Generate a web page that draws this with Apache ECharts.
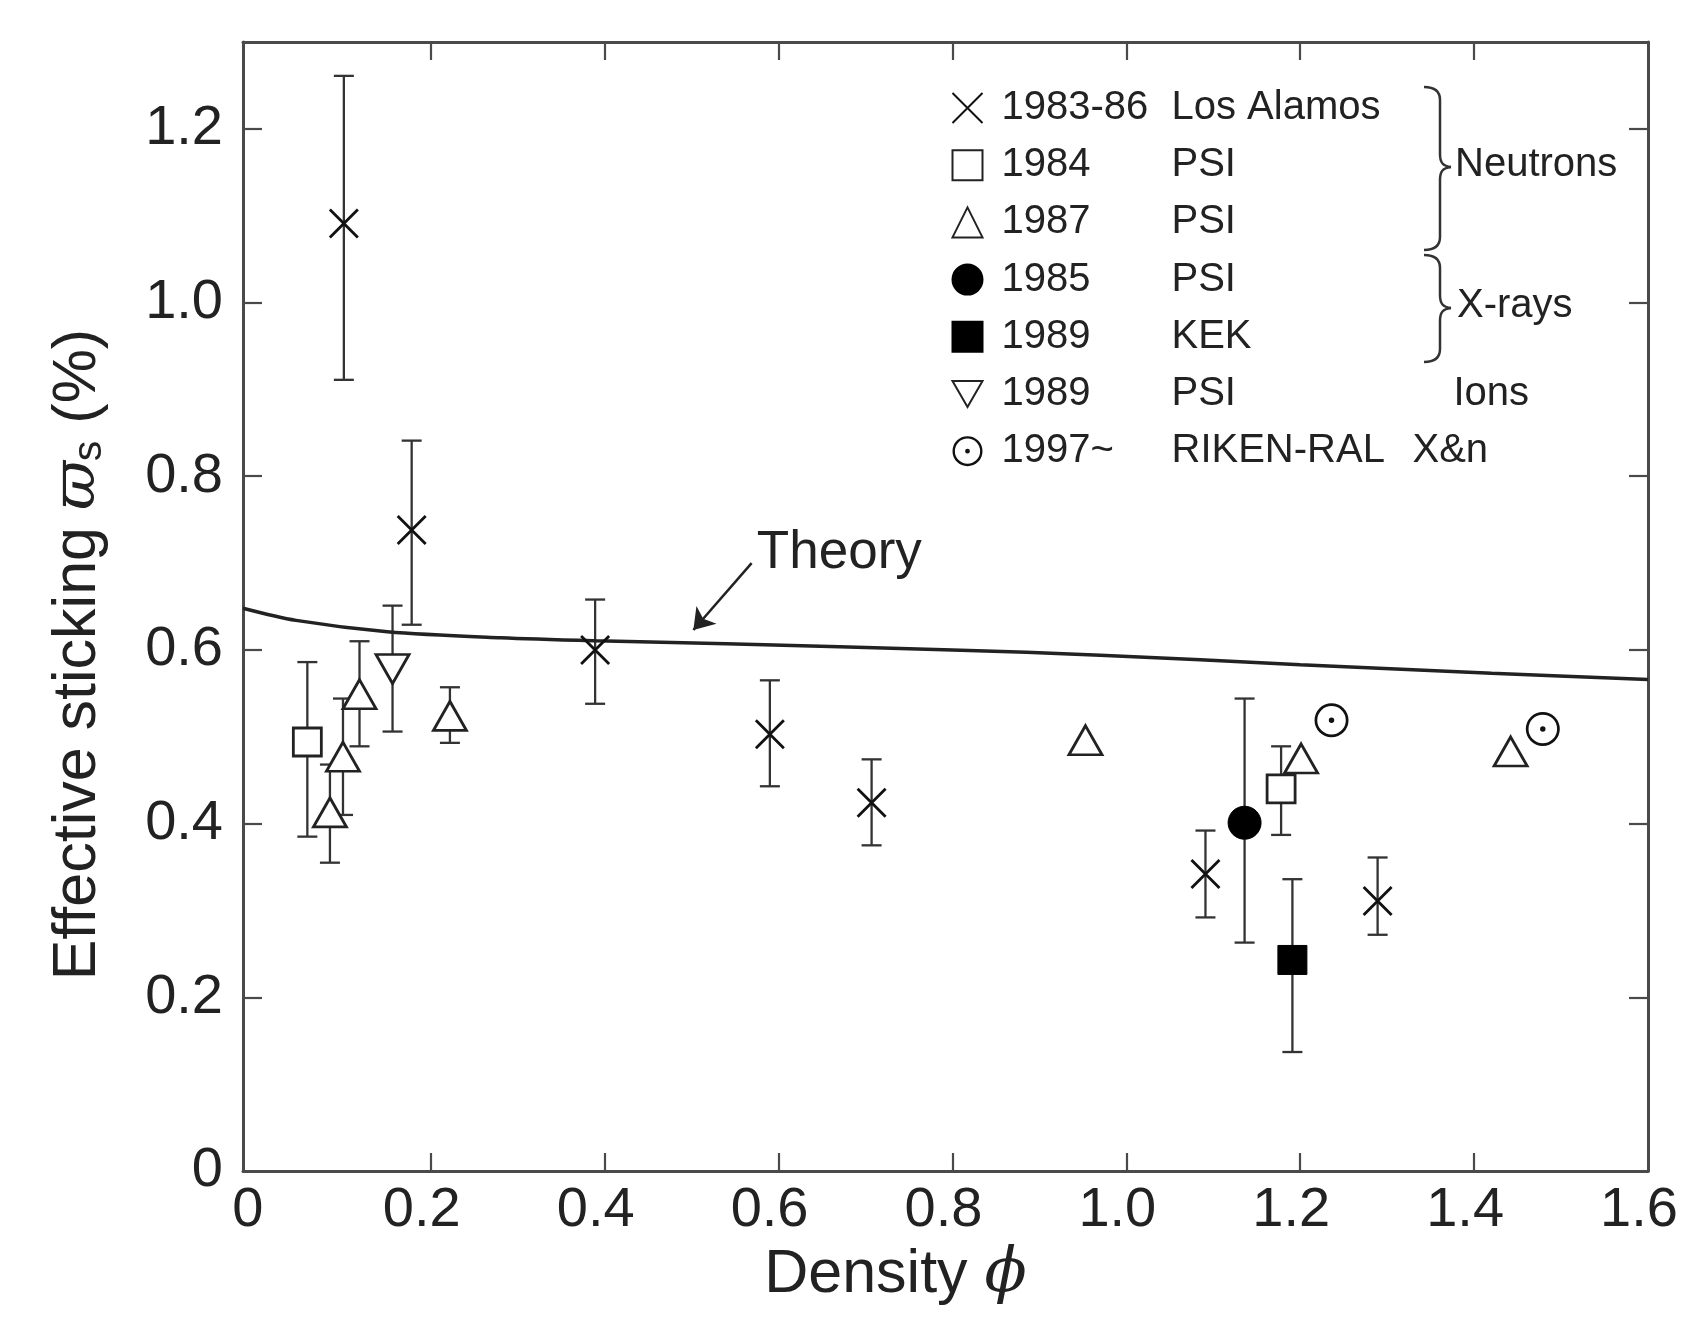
<!DOCTYPE html>
<html style="height: 100%;">
<head>
    <meta charset="UTF-8">
    <title>Effective sticking vs density</title>
    <script src="https://cdn.jsdelivr.net/npm/echarts@6.0.0/dist/echarts.min.js"></script>
    <style>
        body { margin: 0; background: #fff; }
        #container { width: 1681px; height: 1328px; }
    </style>
</head>
<body>
<div id="container"></div>
<script type="text/javascript">
    // --- data ---
    // 1983-86 Los Alamos (crosses)
    var laPhi = [0.100, 0.178, 0.389, 0.590, 0.707, 1.091, 1.289];
    var laVal = [1.091, 0.738, 0.600, 0.503, 0.424, 0.342, 0.311];
    var laLo  = [0.911, 0.629, 0.538, 0.443, 0.375, 0.292, 0.272];
    var laHi  = [1.261, 0.841, 0.658, 0.565, 0.474, 0.392, 0.361];
    // 1984 PSI (open squares)
    var psi84Phi = [0.058, 1.178];
    var psi84Val = [0.494, 0.440];
    var psi84Lo  = [0.385, 0.387];
    var psi84Hi  = [0.586, 0.489];
    // 1987 PSI (open triangles)
    var psi87Phi = [0.084, 0.099, 0.118, 0.222, 0.953, 1.201, 1.442];
    var psi87Val = [0.413, 0.477, 0.549, 0.524, 0.496, 0.475, 0.483];
    var psi87Lo  = [0.355, 0.410, 0.489, 0.493, null, null, null];
    var psi87Hi  = [0.468, 0.544, 0.610, 0.557, null, null, null];
    // 1985 PSI (filled circle)
    var psi85Phi = [1.136];
    var psi85Val = [0.401];
    var psi85Lo  = [0.263];
    var psi85Hi  = [0.544];
    // 1989 KEK (filled square)
    var kekPhi = [1.191];
    var kekVal = [0.243];
    var kekLo  = [0.137];
    var kekHi  = [0.336];
    // 1989 PSI ions (down triangle)
    var psi89Phi = [0.156];
    var psi89Val = [0.578];
    var psi89Lo  = [0.506];
    var psi89Hi  = [0.651];
    // 1997~ RIKEN-RAL (dotted circles)
    var rikenPhi = [1.236, 1.479];
    var rikenVal = [0.519, 0.509];
    // theory curve
    var theoryPhi = [-0.016, 0.045, 0.15, 0.28, 0.39, 0.54, 0.8, 0.97, 1.2, 1.42, 1.6];
    var theoryVal = [0.648, 0.634, 0.621, 0.614, 0.6105, 0.607, 0.600, 0.594, 0.583, 0.573, 0.566];
    var theoryLabelAt = [0.575, 0.711];
    var arrowFrom = [0.569, 0.700];
    var arrowTo = [0.502, 0.623];

    var xTicks = [0.2, 0.4, 0.6, 0.8, 1.0, 1.2, 1.4];
    var xLabels = [0, 0.2, 0.4, 0.6, 0.8, 1.0, 1.2, 1.4, 1.6];
    var yTicks = [0.2, 0.4, 0.6, 0.8, 1.0, 1.2];
    var yLabels = [0, 0.2, 0.4, 0.6, 0.8, 1.0, 1.2];

    var seriesNames = ['1983-86 Los Alamos', '1984 PSI', '1987 PSI', '1985 PSI', '1989 KEK', '1989 PSI', '1997~ RIKEN-RAL'];
    var legendYear = ['1983-86', '1984', '1987', '1985', '1989', '1989', '1997~'];
    var legendLab = ['Los Alamos', 'PSI', 'PSI', 'PSI', 'KEK', 'PSI', 'RIKEN-RAL'];
    var legendGroup = ['', '', '', '', '', 'Ions', 'X&n'];

    var FONT = '"Liberation Sans", Arial, Helvetica, sans-serif';
    var INK = '#222';
    var AXIS = '#4a4a4a';

    function pts(xs, ys) {
        return xs.map(function (x, i) { return [x, ys[i]]; });
    }
    var errData = [];
    function addErr(xs, lo, hi) {
        for (var i = 0; i < xs.length; i++) {
            if (lo[i] != null && hi[i] != null) errData.push([xs[i], lo[i], hi[i]]);
        }
    }
    addErr(laPhi, laLo, laHi);
    addErr(psi84Phi, psi84Lo, psi84Hi);
    addErr(psi87Phi, psi87Lo, psi87Hi);
    addErr(psi85Phi, psi85Lo, psi85Hi);
    addErr(kekPhi, kekLo, kekHi);
    addErr(psi89Phi, psi89Lo, psi89Hi);

    var crossPath = 'path://M0,0L20,20M20,0L0,20';
    var downTri = 'path://M0,0L20,0L10,17.3Z';
    var dotCircle = 'path://M50,0A50,50,0,1,1,50,100A50,50,0,1,1,50,0Z' +
        'M50,8A42,42,0,1,0,50,92A42,42,0,1,0,50,8Z' +
        'M50,42A8,8,0,1,1,50,58A8,8,0,1,1,50,42Z';

    var openStyle = { color: '#fff', borderColor: '#222', borderWidth: 2.8, opacity: 1 };
    var fillStyle = { color: '#000', borderColor: '#000', borderWidth: 1, opacity: 1 };

    function scatter(name, data, symbol, size, style) {
        return {
            name: name, type: 'scatter', data: data,
            symbol: symbol, symbolSize: size,
            itemStyle: style, z: 5,
            emphasis: { disabled: true }
        };
    }

    // curly brace "}" made of bezier pieces, x = left end of the hooks
    function brace(x, top, mid, bottom) {
        var sx = x + 16, tx = x + 27, r = 13;
        var st = { stroke: '#333', lineWidth: 2.5, fill: 'none' };
        var seg = function (a, b, c, d) {
            return { type: 'bezierCurve', silent: true,
                shape: { x1: a[0], y1: a[1], cpx1: b[0], cpy1: b[1], cpx2: c[0], cpy2: c[1], x2: d[0], y2: d[1] }, style: st };
        };
        var ln = function (a, b) {
            return { type: 'line', silent: true, shape: { x1: a[0], y1: a[1], x2: b[0], y2: b[1] }, style: st };
        };
        return {
            type: 'group', silent: true,
            children: [
                seg([x, top], [x + 12, top], [sx, top + 5], [sx, top + r]),
                ln([sx, top + r], [sx, mid - r]),
                seg([sx, mid - r], [sx, mid - 4], [sx + 3, mid - 1], [tx, mid]),
                seg([tx, mid], [sx + 3, mid + 1], [sx, mid + 4], [sx, mid + r]),
                ln([sx, mid + r], [sx, bottom - r]),
                seg([sx, bottom - r], [sx, bottom - 5], [x + 12, bottom], [x, bottom])
            ]
        };
    }

    var dom = document.getElementById('container');
    var myChart = echarts.init(dom);

    var axisLbl = function (v) { return v === 0 ? '0' : v.toFixed(1); };

    var option = {
        animation: false,
        backgroundColor: '#fff',
        textStyle: { fontFamily: FONT },
        grid: { left: 243, right: 33, top: 42, bottom: 157, containLabel: false, outerBoundsMode: 'none' },
        legend: {
            data: seriesNames,
            orient: 'vertical',
            left: 945,
            top: 83,
            itemWidth: 30,
            itemHeight: 30,
            itemGap: 17.2,
            selectedMode: false,
            formatter: function (name) {
                var i = seriesNames.indexOf(name);
                var labKey = i === 6 ? 'l2' : 'l';
                return '{p| }{y|' + legendYear[i] + '}{' + labKey + '|' + legendLab[i] + '}' +
                    (legendGroup[i] ? '{g|' + legendGroup[i] + '}' : '');
            },
            textStyle: {
                fontFamily: FONT, fontSize: 40, color: INK, lineHeight: 40,
                rich: {
                    p: { width: 14, fontSize: 40, lineHeight: 40 },
                    y: { width: 170, fontSize: 40, lineHeight: 40, color: INK, fontFamily: FONT },
                    l: { width: 282, fontSize: 40, lineHeight: 40, color: INK, fontFamily: FONT },
                    l2: { width: 241, fontSize: 40, lineHeight: 40, color: INK, fontFamily: FONT },
                    g: { fontSize: 40, lineHeight: 40, color: INK, fontFamily: FONT }
                }
            }
        },
        xAxis: [{
            type: 'value', min: -0.016, max: 1.6, position: 'bottom',
            name: '{a|Density }{b|\u03d5}',
            nameLocation: 'middle', nameGap: 60,
            nameTextStyle: {
                padding: [0, 100, 0, 0],
                rich: {
                    a: { fontSize: 61, color: INK, fontFamily: FONT },
                    b: { fontSize: 62, color: INK, fontFamily: 'DejaVu Serif, serif', fontStyle: 'italic' }
                }
            },
            axisLine: { show: true, onZero: false, lineStyle: { color: AXIS, width: 3 } },
            axisTick: { show: true, inside: true, length: 18, customValues: xTicks, lineStyle: { color: AXIS, width: 2.2 } },
            axisLabel: {
                customValues: xLabels, formatter: axisLbl, margin: 12,
                fontSize: 56, color: INK, fontFamily: FONT, padding: [0, 18, 0, 0]
            },
            splitLine: { show: false }
        }, {
            type: 'value', min: -0.016, max: 1.6, position: 'top',
            axisLine: { show: true, onZero: false, lineStyle: { color: AXIS, width: 3 } },
            axisTick: { show: true, inside: true, length: 18, customValues: xTicks, lineStyle: { color: AXIS, width: 2.2 } },
            axisLabel: { show: false },
            splitLine: { show: false }
        }],
        yAxis: [{
            type: 'value', min: 0, max: 1.3, position: 'left',
            name: '{a|Effective sticking }{b|\u03d6}{s|s}{a| (%)}',
            nameLocation: 'middle', nameRotate: 90, nameGap: 130,
            nameTextStyle: {
                padding: [0, 96, 0, 0],
                rich: {
                    a: { fontSize: 61, color: INK, fontFamily: FONT, lineHeight: 70 },
                    b: { fontSize: 60, color: INK, fontFamily: 'DejaVu Serif, serif', fontStyle: 'italic', lineHeight: 70 },
                    s: { fontSize: 41, color: INK, fontFamily: FONT, lineHeight: 70, padding: [24, 0, 0, 0] }
                }
            },
            axisLine: { show: true, onZero: false, lineStyle: { color: AXIS, width: 3 } },
            axisTick: { show: true, inside: true, length: 19, customValues: yTicks, lineStyle: { color: AXIS, width: 2.2 } },
            axisLabel: {
                customValues: yLabels, formatter: axisLbl, margin: 20,
                fontSize: 56, color: INK, fontFamily: FONT
            },
            splitLine: { show: false }
        }, {
            type: 'value', min: 0, max: 1.3, position: 'right',
            axisLine: { show: true, onZero: false, lineStyle: { color: AXIS, width: 3 } },
            axisTick: { show: true, inside: true, length: 19, customValues: yTicks, lineStyle: { color: AXIS, width: 2.2 } },
            axisLabel: { show: false },
            splitLine: { show: false }
        }],
        series: [
            {
                name: 'Theory', type: 'line', data: pts(theoryPhi, theoryVal),
                smooth: 0.3, showSymbol: false, symbol: 'none',
                lineStyle: { color: '#222', width: 3.5 }, z: 3,
                emphasis: { disabled: true },
                markLine: {
                    silent: true, symbol: ['none', 'arrow'], symbolSize: 20,
                    label: { show: false },
                    lineStyle: { color: '#222', width: 2.5, type: 'solid' },
                    data: [[{ coord: arrowFrom }, { coord: arrowTo }]]
                },
                markPoint: {
                    silent: true, symbol: 'circle', symbolSize: 0,
                    label: {
                        show: true, position: 'right', distance: 0, formatter: 'Theory',
                        fontSize: 53, color: INK, fontFamily: FONT
                    },
                    data: [{ coord: theoryLabelAt }]
                }
            },
            {
                name: 'errors', type: 'custom', data: errData, z: 2,
                encode: { x: 0, y: [1, 2] },
                renderItem: function (params, api) {
                    var x = api.value(0);
                    var top = api.coord([x, api.value(2)]);
                    var bot = api.coord([x, api.value(1)]);
                    var w = 10;
                    var st = { stroke: '#333', lineWidth: 2.3 };
                    return {
                        type: 'group',
                        children: [
                            { type: 'line', shape: { x1: top[0], y1: top[1], x2: bot[0], y2: bot[1] }, style: st },
                            { type: 'line', shape: { x1: top[0] - w, y1: top[1], x2: top[0] + w, y2: top[1] }, style: st },
                            { type: 'line', shape: { x1: bot[0] - w, y1: bot[1], x2: bot[0] + w, y2: bot[1] }, style: st }
                        ]
                    };
                }
            },
            scatter(seriesNames[0], pts(laPhi, laVal), crossPath, 28, { color: 'none', borderColor: '#111', borderWidth: 2.8, opacity: 1 }),
            scatter(seriesNames[1], pts(psi84Phi, psi84Val), 'rect', 28, openStyle),
            scatter(seriesNames[2], pts(psi87Phi, psi87Val), 'triangle', [33, 29], openStyle),
            scatter(seriesNames[3], pts(psi85Phi, psi85Val), 'circle', 33, fillStyle),
            scatter(seriesNames[4], pts(kekPhi, kekVal), 'rect', 29, fillStyle),
            scatter(seriesNames[5], pts(psi89Phi, psi89Val), downTri, [33, 29], openStyle),
            scatter(seriesNames[6], pts(rikenPhi, rikenVal), dotCircle, 34, { color: '#111', borderWidth: 0, opacity: 1 })
        ],
        graphic: [
            brace(1424, 87, 167, 250),
            brace(1424, 255, 308, 362),
            {
                type: 'text', left: 1455, top: 145, silent: true,
                style: { text: 'Neutrons', fontSize: 40, fill: INK, fontFamily: FONT }
            },
            {
                type: 'text', left: 1457, top: 286, silent: true,
                style: { text: 'X-rays', fontSize: 40, fill: INK, fontFamily: FONT }
            }
        ]
    };

    if (option && typeof option === 'object') {
        myChart.setOption(option, true);
    }
</script>
</body>
</html>
